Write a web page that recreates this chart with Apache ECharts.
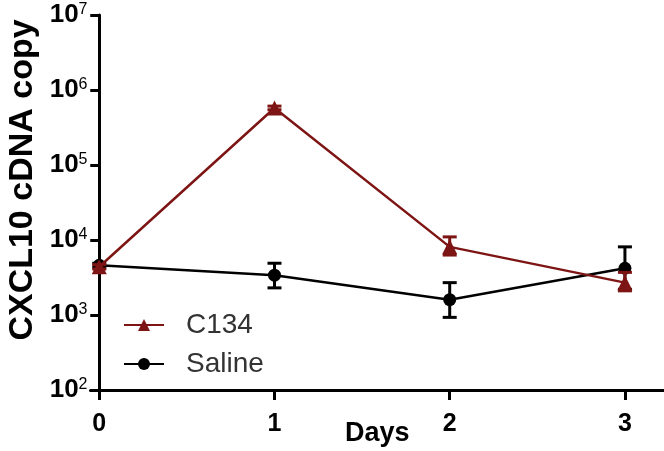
<!DOCTYPE html>
<html>
<head>
<meta charset="utf-8">
<script src="https://cdn.jsdelivr.net/npm/echarts@6/dist/echarts.min.js"></script>
<style>
html,body{margin:0;padding:0;background:#fff;}
#chart{width:664px;height:451px;}
</style>
</head>
<body>
<div id="chart"></div>
<script>
var days = [0, 1, 2, 3];
var dayTicks = [0, 1, 2, 3];
var yExponents = [2, 3, 4, 5, 6, 7];
var c134Mean = [4400, 575000, 8100, 2700];
var c134Lo = [4100, 545000, 6300, 2100];
var c134Hi = [4700, 610000, 11000, 3700];
var salineMean = [4600, 3400, 1600, 4200];
var salineLo = [4300, 2300, 930, 2200];
var salineHi = [4900, 4900, 2700, 8100];

var RED = '#7e1515';
var FONT = 'Liberation Sans, Arial, sans-serif';

function pairs(means) { return days.map(function (d, i) { return [d, means[i]]; }); }
function errData(lo, hi) { return days.map(function (d, i) { return [d, lo[i], hi[i]]; }); }

function errRender(color) {
  return function (params, api) {
    var x = api.value(0);
    var top = api.coord([x, api.value(2)]);
    var bot = api.coord([x, api.value(1)]);
    var w = 7;
    var st = { stroke: color, lineWidth: 3 };
    return {
      type: 'group',
      children: [
        { type: 'line', shape: { x1: top[0], y1: top[1], x2: bot[0], y2: bot[1] }, style: st },
        { type: 'line', shape: { x1: top[0] - w, y1: top[1], x2: top[0] + w, y2: top[1] }, style: st },
        { type: 'line', shape: { x1: bot[0] - w, y1: bot[1], x2: bot[0] + w, y2: bot[1] }, style: st }
      ]
    };
  };
}

var chart = echarts.init(document.getElementById('chart'), null, { renderer: 'canvas' });
chart.setOption({
  animation: false,
  backgroundColor: '#fff',
  textStyle: { fontFamily: FONT },
  grid: { left: 90.5, right: 0, top: 15, bottom: 61, containLabel: false, outerBoundsMode: 'none' },
  legend: {
    left: 118, top: 306, orient: 'vertical', itemGap: 11,
    itemWidth: 40, itemHeight: 15,
    data: ['C134', 'Saline'],
    textStyle: { fontFamily: FONT, fontSize: 28, color: '#333', padding: [0, 0, 0, 17] }
  },
  graphic: [{
    type: 'text', x: 23, y: 180, rotation: Math.PI / 2,
    style: { text: 'CXCL10 cDNA copy', font: 'bold 34px ' + FONT, fill: '#000', align: 'center', verticalAlign: 'middle' }
  }],
  xAxis: {
    type: 'value', min: -0.05, max: 3.223,
    name: 'Days', nameLocation: 'middle', nameGap: 30, nameMoveOverlap: false,
    nameTextStyle: { fontFamily: FONT, fontSize: 27, fontWeight: 'bold', color: '#000' },
    axisLine: { lineStyle: { color: '#000', width: 3 } },
    axisTick: { customValues: dayTicks, length: 10, lineStyle: { color: '#000', width: 3 } },
    axisLabel: { customValues: dayTicks, margin: 22, fontFamily: FONT, fontSize: 25, fontWeight: 'bold', color: '#000' },
    splitLine: { show: false }
  },
  yAxis: {
    type: 'log', logBase: 10, min: 100, max: 10000000,
    axisLine: { onZero: true, lineStyle: { color: '#000', width: 3 } },
    axisTick: { length: 9, lineStyle: { color: '#000', width: 3 } },
    axisLabel: {
      margin: 3,
      formatter: function (v) {
        var e = Math.round(Math.log10(v));
        return yExponents.indexOf(e) >= 0 ? '{a|10}{b|' + e + '}' : '';
      },
      rich: {
        a: { fontFamily: FONT, fontSize: 26, fontWeight: 'bold', color: '#000', lineHeight: 26 },
        b: { fontFamily: FONT, fontSize: 16, color: '#000', verticalAlign: 'top', lineHeight: 16 }
      }
    },
    splitLine: { show: false }
  },
  series: [
    {
      name: 'Saline', type: 'line', data: pairs(salineMean), z: 3,
      symbol: 'circle', symbolSize: 13,
      lineStyle: { color: '#000', width: 2.5 }, itemStyle: { color: '#000' }
    },
    {
      type: 'custom', data: errData(salineLo, salineHi), renderItem: errRender('#000'), z: 3,
      encode: { x: 0, y: [1, 2] }, silent: true
    },
    {
      name: 'C134', type: 'line', data: pairs(c134Mean), z: 4,
      symbol: 'triangle', symbolSize: 15,
      lineStyle: { color: RED, width: 2.5 }, itemStyle: { color: RED }
    },
    {
      type: 'custom', data: errData(c134Lo, c134Hi), renderItem: errRender(RED), z: 4,
      encode: { x: 0, y: [1, 2] }, silent: true
    }
  ]
});
</script>
</body>
</html>
